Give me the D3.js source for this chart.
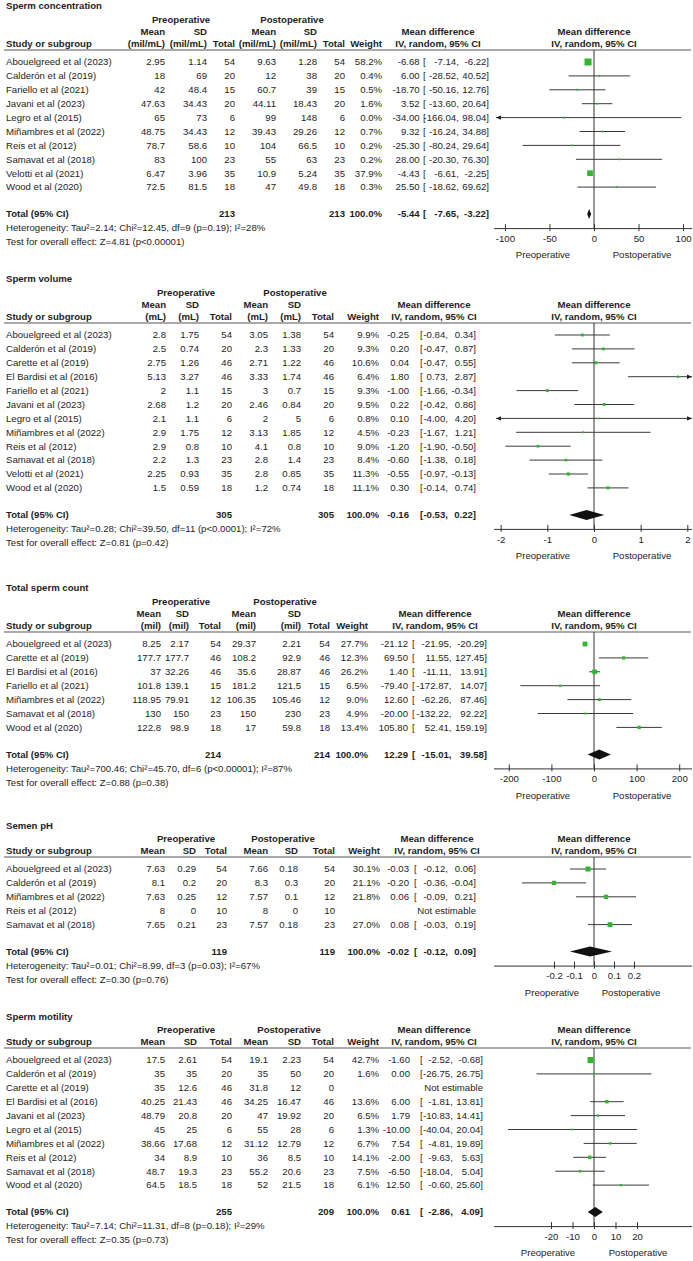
<!DOCTYPE html>
<html lang="en">
<head>
<meta charset="UTF-8">
<title>Forest plots: preoperative vs postoperative</title>
<script src="https://d3js.org/d3.v7.min.js"></script>
<style>
  body { margin: 0; background: #fff; }
  svg text { font-family: "Liberation Sans", Arial, sans-serif; font-size: 9.6px; fill: #1e1e1e; }
  svg text.b { font-weight: bold; }
</style>
</head>
<body>
<svg id="chart" width="693" height="1261"></svg>
<script>
// row: study, pre mean, pre sd, pre n, post mean, post sd, post n, weight %, md, lower, upper
const concRows = [
  ["Abouelgreed et al (2023)", 2.95, 1.14, 54, 9.63, 1.28, 54, 58.2, -6.68, -7.14, -6.22],
  ["Calderón et al (2019)", 18, 69, 20, 12, 38, 20, 0.4, 6.00, -28.52, 40.52],
  ["Fariello et al (2021)", 42, 48.4, 15, 60.7, 39, 15, 0.5, -18.70, -50.16, 12.76],
  ["Javani et al (2023)", 47.63, 34.43, 20, 44.11, 18.43, 20, 1.6, 3.52, -13.60, 20.64],
  ["Legro et al (2015)", 65, 73, 6, 99, 148, 6, 0.0, -34.00, -166.04, 98.04],
  ["Miñambres et al (2022)", 48.75, 34.43, 12, 39.43, 29.26, 12, 0.7, 9.32, -16.24, 34.88],
  ["Reis et al (2012)", 78.7, 58.6, 10, 104, 66.5, 10, 0.2, -25.30, -80.24, 29.64],
  ["Samavat et al (2018)", 83, 100, 23, 55, 63, 23, 0.2, 28.00, -20.30, 76.30],
  ["Velotti et al (2021)", 6.47, 3.96, 35, 10.9, 5.24, 35, 37.9, -4.43, -6.61, -2.25],
  ["Wood et al (2020)", 72.5, 81.5, 18, 47, 49.8, 18, 0.3, 25.50, -18.62, 69.62]
];
const concTotal = [213, 213, 100.0, -5.44, -7.65, -3.22];
const concHet = ["2.14", "12.45", "9", "p=0.19", "28"];
const concTest = ["4.81", "p<0.00001"];
const concTicks = [-100, -50, 0, 50, 100];

const volRows = [
  ["Abouelgreed et al (2023)", 2.8, 1.75, 54, 3.05, 1.38, 54, 9.9, -0.25, -0.84, 0.34],
  ["Calderón et al (2019)", 2.5, 0.74, 20, 2.3, 1.33, 20, 9.3, 0.20, -0.47, 0.87],
  ["Carette et al (2019)", 2.75, 1.26, 46, 2.71, 1.22, 46, 10.6, 0.04, -0.47, 0.55],
  ["El Bardisi et al (2016)", 5.13, 3.27, 46, 3.33, 1.74, 46, 6.4, 1.80, 0.73, 2.87],
  ["Fariello et al (2021)", 2, 1.1, 15, 3, 0.7, 15, 9.3, -1.00, -1.66, -0.34],
  ["Javani et al (2023)", 2.68, 1.2, 20, 2.46, 0.84, 20, 9.5, 0.22, -0.42, 0.86],
  ["Legro et al (2015)", 2.1, 1.1, 6, 2, 5, 6, 0.8, 0.10, -4.00, 4.20],
  ["Miñambres et al (2022)", 2.9, 1.75, 12, 3.13, 1.85, 12, 4.5, -0.23, -1.67, 1.21],
  ["Reis et al (2012)", 2.9, 0.8, 10, 4.1, 0.8, 10, 9.0, -1.20, -1.90, -0.50],
  ["Samavat et al (2018)", 2.2, 1.3, 23, 2.8, 1.4, 23, 8.4, -0.60, -1.38, 0.18],
  ["Velotti et al (2021)", 2.25, 0.93, 35, 2.8, 0.85, 35, 11.3, -0.55, -0.97, -0.13],
  ["Wood et al (2020)", 1.5, 0.59, 18, 1.2, 0.74, 18, 11.1, 0.30, -0.14, 0.74]
];
const volTotal = [305, 305, 100.0, -0.16, -0.53, 0.22];
const volHet = ["0.28", "39.50", "11", "p<0.0001", "72"];
const volTest = ["0.81", "p=0.42"];
const volTicks = [-2, -1, 0, 1, 2];

const countRows = [
  ["Abouelgreed et al (2023)", 8.25, 2.17, 54, 29.37, 2.21, 54, 27.7, -21.12, -21.95, -20.29],
  ["Carette et al (2019)", 177.7, 177.7, 46, 108.2, 92.9, 46, 12.3, 69.50, 11.55, 127.45],
  ["El Bardisi et al (2016)", 37, 32.26, 46, 35.6, 28.87, 46, 26.2, 1.40, -11.11, 13.91],
  ["Fariello et al (2021)", 101.8, 139.1, 15, 181.2, 121.5, 15, 6.5, -79.40, -172.87, 14.07],
  ["Miñambres et al (2022)", 118.95, 79.91, 12, 106.35, 105.46, 12, 9.0, 12.60, -62.26, 87.46],
  ["Samavat et al (2018)", 130, 150, 23, 150, 230, 23, 4.9, -20.00, -132.22, 92.22],
  ["Wood et al (2020)", 122.8, 98.9, 18, 17, 59.8, 18, 13.4, 105.80, 52.41, 159.19]
];
const countTotal = [214, 214, 100.0, 12.29, -15.01, 39.58];
const countHet = ["700.46", "45.70", "6", "p<0.00001", "87"];
const countTest = ["0.88", "p=0.38"];
const countTicks = [-200, -100, 0, 100, 200];

const phRows = [
  ["Abouelgreed et al (2023)", 7.63, 0.29, 54, 7.66, 0.18, 54, 30.1, -0.03, -0.12, 0.06],
  ["Calderón et al (2019)", 8.1, 0.2, 20, 8.3, 0.3, 20, 21.1, -0.20, -0.36, -0.04],
  ["Miñambres et al (2022)", 7.63, 0.25, 12, 7.57, 0.1, 12, 21.8, 0.06, -0.09, 0.21],
  ["Reis et al (2012)", 8, 0, 10, 8, 0, 10, null, null, null, null],
  ["Samavat et al (2018)", 7.65, 0.21, 23, 7.57, 0.18, 23, 27.0, 0.08, -0.03, 0.19]
];
const phTotal = [119, 119, 100.0, -0.02, -0.12, 0.09];
const phHet = ["0.01", "8.99", "3", "p=0.03", "67"];
const phTest = ["0.30", "p=0.76"];
const phTicks = [-0.2, -0.1, 0, 0.1, 0.2];

const motRows = [
  ["Abouelgreed et al (2023)", 17.5, 2.61, 54, 19.1, 2.23, 54, 42.7, -1.60, -2.52, -0.68],
  ["Calderón et al (2019)", 35, 35, 20, 35, 50, 20, 1.6, 0.00, -26.75, 26.75],
  ["Carette et al (2019)", 35, 12.6, 46, 31.8, 12, 0, null, null, null, null],
  ["El Bardisi et al (2016)", 40.25, 21.43, 46, 34.25, 16.47, 46, 13.6, 6.00, -1.81, 13.81],
  ["Javani et al (2023)", 48.79, 20.8, 20, 47, 19.92, 20, 6.5, 1.79, -10.83, 14.41],
  ["Legro et al (2015)", 45, 25, 6, 55, 28, 6, 1.3, -10.00, -40.04, 20.04],
  ["Miñambres et al (2022)", 38.66, 17.68, 12, 31.12, 12.79, 12, 6.7, 7.54, -4.81, 19.89],
  ["Reis et al (2012)", 34, 8.9, 10, 36, 8.5, 10, 14.1, -2.00, -9.63, 5.63],
  ["Samavat et al (2018)", 48.7, 19.3, 23, 55.2, 20.6, 23, 7.5, -6.50, -18.04, 5.04],
  ["Wood et al (2020)", 64.5, 18.5, 18, 52, 21.5, 18, 6.1, 12.50, -0.60, 25.60]
];
const motTotal = [255, 209, 100.0, 0.61, -2.86, 4.09];
const motHet = ["7.14", "11.31", "8", "p=0.18", "29"];
const motTest = ["0.35", "p=0.73"];
const motTicks = [-20, -10, 0, 10, 20];

const panels = [
  { title: "Sperm concentration", unit: "(mil/mL)", top: 6, rows: concRows, total: concTotal, het: concHet, test: concTest, ticks: concTicks, lim: 110,
    cols: { preMean: 165, preSD: 207, preN: 235, postMean: 276, postSD: 317, postN: 345, weight: 382, md: 420, br: 427, hi: 489, preC: 181, postC: 292, mdC: 438, lab: [543, 642] } },
  { title: "Sperm volume", unit: "(mL)", top: 279, rows: volRows, total: volTotal, het: volHet, test: volTest, ticks: volTicks, lim: 2.1,
    cols: { preMean: 166, preSD: 199, preN: 232, postMean: 268, postSD: 301, postN: 334, weight: 379, md: 409, br: 420, hi: 476, preC: 186, postC: 295, mdC: 434, lab: [543, 642] } },
  { title: "Total sperm count", unit: "(mil)", top: 588, rows: countRows, total: countTotal, het: countHet, test: countTest, ticks: countTicks, lim: 230,
    cols: { preMean: 161, preSD: 189, preN: 221, postMean: 256, postSD: 301, postN: 330, weight: 368, md: 408, br: 412, hi: 487, preC: 181, postC: 285, mdC: 435, lab: [543, 642] } },
  { title: "Semen pH", unit: null, top: 826, rows: phRows, total: phTotal, het: phHet, test: phTest, ticks: phTicks, lim: 0.49,
    cols: { preMean: 165, preSD: 196, preN: 227, postMean: 268, postSD: 298, postN: 335, weight: 380, md: 409, br: 414, hi: 476, preC: 186, postC: 283, mdC: 437, lab: [552, 631] } },
  { title: "Sperm motility", unit: null, top: 1017, rows: motRows, total: motTotal, het: motHet, test: motTest, ticks: motTicks, lim: 45.6,
    cols: { preMean: 165, preSD: 197, preN: 232, postMean: 268, postSD: 301, postN: 334, weight: 379, md: 410, br: 420, hi: 483, preC: 186, postC: 289, mdC: 434, lab: [548, 638] } }
];

const svg = d3.select("#chart");
const X0 = 496, X1 = 692, PC = 594;
const rowH = 13.9;
const green = "#2fb52f", ink = "#3a3a3a";

function txt(g, x, y, s, anchor, bold) {
  return g.append("text").attr("x", x).attr("y", y).attr("dy", "0.35em")
    .attr("text-anchor", anchor || "start").attr("class", bold ? "b" : null).text(s);
}
const f2 = v => v.toFixed(2);

const meas = svg.append("text").attr("x", -500).attr("y", -500);
function tw(s, bold) {
  meas.attr("class", bold ? "b" : null).text(s);
  return meas.node().getComputedTextLength();
}

function arrow(g, xe, y, dir) {
  g.append("path")
    .attr("d", `M${xe},${y}L${xe - dir * 5},${y - 2.2}L${xe - dir * 5},${y + 2.2}Z`)
    .attr("fill", "#222");
}

function drawPanel(p) {
  const g = svg.append("g");
  const c = p.cols;
  const t = p.top;
  const three = !!p.unit;
  const x = d3.scaleLinear().domain([-p.lim, p.lim]).range([X0, X1]);

  // CI sub-columns so bracket, lower and upper never collide
  const est = p.rows.filter(r => r[8] != null);
  const maxUp = d3.max([...est.map(r => tw(f2(r[10]) + "]")), tw(f2(p.total[5]) + "]", true)]);
  const maxLow = d3.max([...est.map(r => tw(f2(r[9]) + ",")), tw(f2(p.total[4]) + ",", true)]);
  const hiX = c.hi;
  const loX = hiX - maxUp - 3.5;
  const brX = Math.min(c.br, loX - maxLow - 0.5);
  const mdX = Math.min(c.md, brX - 3.5);

  const yPre = t + (three ? 14 : 13);
  const yH2 = t + (three ? 26 : 25);
  const yH3 = t + 38;
  const yLine = t + (three ? 44 : 31);
  const y0 = t + (three ? 56 : 43);
  const yLast = y0 + (p.rows.length - 1) * rowH;
  const yTot = yLast + 27;
  const yHet = yTot + 14, yTest = yHet + 14;
  const yAxis = yHet;

  txt(g, 6, t, p.title, "start", true);

  // column headers
  txt(g, c.preC, yPre, "Preoperative", "middle", true);
  txt(g, c.postC, yPre, "Postoperative", "middle", true);
  [c.preMean, c.postMean].forEach(cx => txt(g, cx, yH2, "Mean", "end", true));
  [c.preSD, c.postSD].forEach(cx => txt(g, cx, yH2, "SD", "end", true));
  if (three) {
    [c.preMean, c.preSD, c.postMean, c.postSD].forEach(cx => txt(g, cx, yH3, p.unit, "end", true));
  }
  const yMD = three ? yH2 : yPre;
  txt(g, c.mdC, yMD, "Mean difference", "middle", true);
  txt(g, PC, yMD, "Mean difference", "middle", true);
  const yLab = three ? yH3 : yH2;
  txt(g, 6, yLab, "Study or subgroup", "start", true);
  [c.preN, c.postN].forEach(cx => txt(g, cx, yLab, "Total", "end", true));
  txt(g, c.weight, yLab, "Weight", "end", true);
  txt(g, c.mdC, yLab, "IV, random, 95% CI", "middle", true);
  txt(g, PC, yLab, "IV, random, 95% CI", "middle", true);

  g.append("line").attr("x1", 4).attr("x2", 691).attr("y1", yLine).attr("y2", yLine)
    .attr("stroke", "#555").attr("stroke-width", 1);

  // line of no effect
  g.append("line").attr("x1", x(0)).attr("x2", x(0)).attr("y1", yLine).attr("y2", yAxis)
    .attr("stroke", "#333").attr("stroke-width", 1);

  p.rows.forEach((r, i) => {
    const y = y0 + i * rowH;
    const [name, m1, s1, n1, m2, s2, n2, w, md, lo, hi] = r;
    txt(g, 6, y, name);
    [[m1, c.preMean], [s1, c.preSD], [n1, c.preN], [m2, c.postMean], [s2, c.postSD], [n2, c.postN]]
      .forEach(([v, cx]) => txt(g, cx, y, String(v), "end"));
    if (md == null) { txt(g, hiX, y, "Not estimable", "end"); return; }
    txt(g, c.weight, y, w.toFixed(1) + "%", "end");
    txt(g, mdX, y, f2(md), "end");
    txt(g, brX, y, "[");
    txt(g, loX, y, f2(lo) + ",", "end");
    txt(g, hiX, y, f2(hi) + "]", "end");

    const a = Math.max(lo, -p.lim), b = Math.min(hi, p.lim);
    g.append("line").attr("x1", x(a)).attr("x2", x(b)).attr("y1", y).attr("y2", y)
      .attr("stroke", ink).attr("stroke-width", 1);
    if (lo < -p.lim) arrow(g, x(-p.lim), y, -1);
    if (hi > p.lim) arrow(g, x(p.lim), y, 1);
    const s = Math.max(1.8, 0.92 * Math.sqrt(w));
    g.append("rect").attr("x", x(md) - s / 2).attr("y", y - s / 2)
      .attr("width", s).attr("height", s).attr("fill", green);
  });

  // pooled estimate
  const [tn1, tn2, tw_, tmd, tlo, thi] = p.total;
  txt(g, 6, yTot, "Total (95% CI)", "start", true);
  txt(g, c.preN, yTot, String(tn1), "end", true);
  txt(g, c.postN, yTot, String(tn2), "end", true);
  txt(g, c.weight, yTot, tw_.toFixed(1) + "%", "end", true);
  txt(g, mdX, yTot, f2(tmd), "end", true);
  txt(g, brX, yTot, "[", "start", true);
  txt(g, loX, yTot, f2(tlo) + ",", "end", true);
  txt(g, hiX, yTot, f2(thi) + "]", "end", true);
  g.append("path")
    .attr("d", `M${x(tlo)},${yTot}L${x(tmd)},${yTot - 5}L${x(thi)},${yTot}L${x(tmd)},${yTot + 5}Z`)
    .attr("fill", "#111");

  const h = p.het;
  txt(g, 6, yHet, `Heterogeneity: Tau²=${h[0]}; Chi²=${h[1]}, df=${h[2]} (${h[3]}); I²=${h[4]}%`);
  txt(g, 6, yTest, `Test for overall effect: Z=${p.test[0]} (${p.test[1]})`);

  // axis
  const ax = g.append("g").attr("transform", `translate(0,${yAxis})`).style("color", "#333")
    .call(d3.axisBottom(x).tickValues(p.ticks).tickSize(3).tickSizeOuter(0).tickPadding(4)
      .tickFormat(d => String(d)));
  ax.selectAll(".tick line").attr("y1", -4);
  ax.select(".domain").attr("d", `M${X0 - 2},0.5H${X1}`);
  txt(g, c.lab[0], yAxis + 27, "Preoperative", "middle");
  txt(g, c.lab[1], yAxis + 27, "Postoperative", "middle");
}

panels.forEach(drawPanel);
meas.remove();
</script>
</body>
</html>
